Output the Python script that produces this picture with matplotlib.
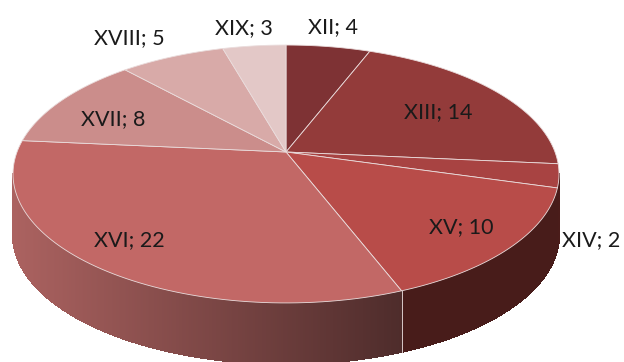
import numpy as np
import matplotlib
matplotlib.use("Agg")
import matplotlib.pyplot as plt
from matplotlib.colors import to_rgb

labels = ["XII", "XIII", "XIV", "XV", "XVI", "XVII", "XVIII", "XIX"]
values = [4, 14, 2, 10, 22, 8, 5, 3]
colors = ["#7e3234", "#933b3a", "#a84342", "#b84c49", "#c26866", "#cb8d8b", "#d8aaa8", "#e3c8c7"]
wall_colors = ["#4a1c1a", "#4a1c1a", "#4a1c1a", "#481c1a", None, None, None, None]

W, H = 624, 362
# apex of the pie and the perspective of the disc
cx, cy, sx, sy, k, depth = 286, 152, 269, 125.2, 0.1705, 61

fig = plt.figure(figsize=(W / 100, H / 100), dpi=100)
ax = fig.add_axes([0, 0, 1, 1])
ax.set_xlim(0, W)
ax.set_ylim(H, 0)
ax.axis("off")


def pt(a):
    # angle in degrees, clockwise from the top
    r = np.radians(a)
    u, v = np.sin(r), np.cos(r)
    d = 1 + k * v
    return cx + sx * u / d, cy - sy * v / d


angles = np.concatenate([[0], np.cumsum(values) / sum(values) * 360])
# where the rim turns back, the wall is hidden beyond these
edge = np.degrees(np.arccos(-k))
wall0, wall1 = edge, 360 - edge

left_shade = np.array(to_rgb("#ab6260"))
right_shade = np.array(to_rgb("#4e2c2b"))

for i in range(len(values)):
    a0, a1 = max(angles[i], wall0), min(angles[i + 1], wall1)
    if a1 <= a0:
        continue
    steps = np.linspace(a0, a1, int((a1 - a0) * 3) + 2)
    for s0, s1 in zip(steps[:-1], steps[1:]):
        x0, y0 = pt(s0)
        x1, y1 = pt(s1)
        if wall_colors[i]:
            c = wall_colors[i]
        else:
            t = (x0 - 14) / (402 - 14)
            c = tuple(left_shade + (right_shade - left_shade) * t)
        ax.fill([x0, x1, x1, x0], [y0, y1, y1 + depth, y0 + depth],
                facecolor=c, edgecolor=c, lw=0.8, antialiased=False)

# only the XV / XVI seam shows on the wall
x, y = pt(angles[4])
ax.plot([x, x], [y, y + depth], color="#d8c8c8", lw=0.7)

# top face
for i in range(len(values)):
    t = np.linspace(angles[i], angles[i + 1], 80)
    xs, ys = pt(t)
    ax.fill(np.r_[cx, xs], np.r_[cy, ys], facecolor=colors[i],
            edgecolor="#eadcdc", lw=0.6)

label_x = [333, 438, 591, 461, 129, 113, 129, 244]
label_y = [27, 112, 240, 227, 240, 119, 38, 28]
for name, v, lx, ly in zip(labels, values, label_x, label_y):
    ax.text(lx, ly, f"{name}; {v}", ha="center", va="center", fontsize=15.5,
            color="#1a1a1a", family="Lato")

fig.savefig("out.png", dpi=100)
